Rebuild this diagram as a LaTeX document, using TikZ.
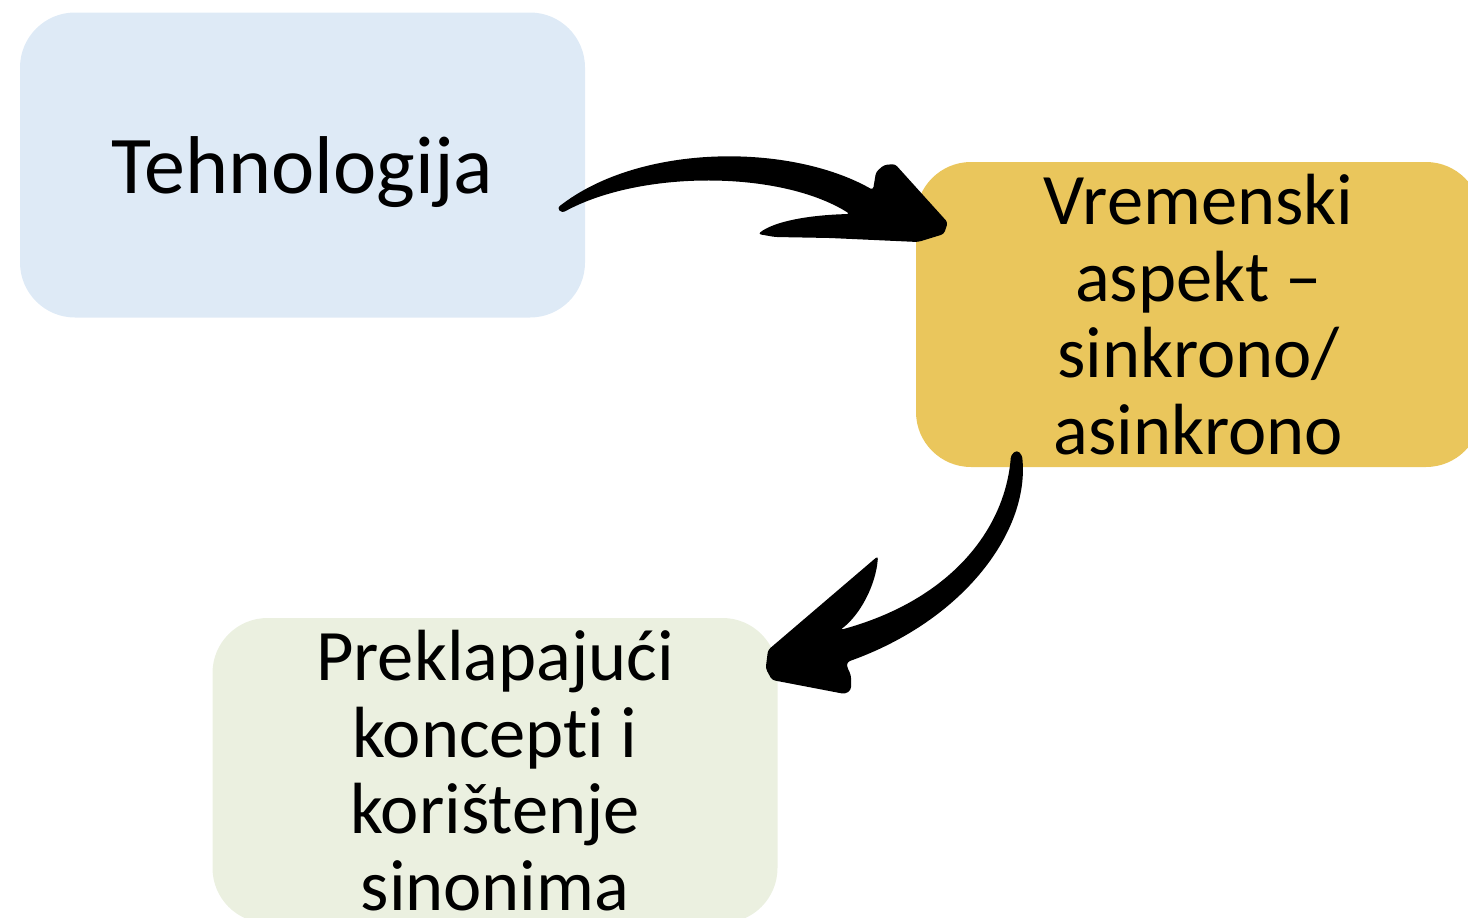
\documentclass[tikz,border=0pt]{standalone}
\usepackage{fontspec}
\setmainfont[Ligatures=NoCommon]{Carlito}
\usetikzlibrary{calc}
\definecolor{techblue}{RGB}{222,234,246}
\definecolor{timegold}{RGB}{234,198,92}
\definecolor{conceptgreen}{RGB}{235,240,224}

\tikzset{x=1pt, y=-1pt, node font=\fontsize{72.5}{76.5}\selectfont}
\tikzset{
  card/.style={rounded corners=55pt, minimum width=565pt, minimum height=305pt,
    align=center, inner sep=0pt},
  brush/.style={fill=black, rounded corners=3pt}
}

\begin{document}
\begin{tikzpicture}
  \useasboundingbox (0,0) rectangle (1468,918);
  \clip (0,0) rectangle (1468,918);
    \node [card, fill=techblue, font=\fontsize{82}{86}\selectfont] (tech) at (302.5,165)
      {\raisebox{-28pt}[0pt][0pt]{Tehnologija}};
    \node [card, fill=timegold] (vrem) at (1198.5,314.5)
      {Vremenski\\aspekt –\\sinkrono/\\asinkrono};
    \node [card, fill=conceptgreen] (prek) at (495,770.5)
      {Preklapajući\\koncepti i\\korištenje\\sinonima};
    \coordinate (a1) at ($(tech.east)+(-28,43)$);
    \coordinate (b1) at ($(vrem.west)+(32,-92)$);
    \coordinate (a2) at ($(vrem.south west)+(101,-17)$);
    \coordinate (b2) at ($(prek.east)+(-12,-102)$);
    \fill [brush]
      (a1) .. controls (640,143) and (790,143) .. (873,190)
      -- (876,172) -- (884,165) -- (895,164) -- (b1) -- (944,234) -- (918,242)
      -- (830,238) -- (775,237) -- (758,234)
      .. controls (775,221) and (810,215) .. (850,214)
      .. controls (780,170) and (640,170) .. (562,213) -- cycle;
    \fill [brush]
      (a2) -- (1022,455) .. controls (1030,530) and (965,620) .. (847,662)
      -- (847,667) -- (851,675) -- (851,690) -- (845,694) -- (772,680)
      -- (b2) -- (768,650) -- (878,556) .. controls (876,585) and (860,615) .. (840,630)
      .. controls (950,600) and (1005,530) .. (1011,455) -- cycle;
  \end{tikzpicture}
\end{document}
